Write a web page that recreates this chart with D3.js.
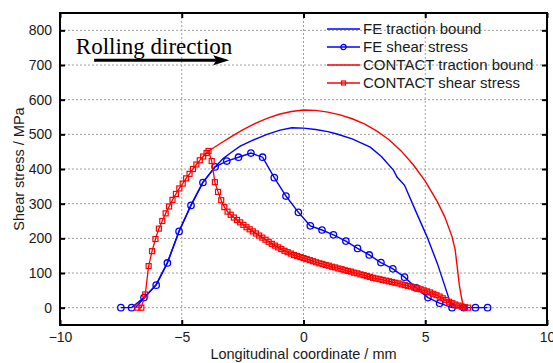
<!DOCTYPE html>
<html>
<head>
<meta charset="utf-8">
<script src="https://cdn.jsdelivr.net/npm/d3@7"></script>
<style>
  body { margin: 0; background: #fff; }
  text { font-family: Arial, "Liberation Sans", sans-serif; }
</style>
</head>
<body>
<div id="chart"></div>
<script>
// FE shear stress (blue circles)
const feShearX = [-7.5, -7.06, -6.55, -6.05, -5.59, -5.11, -4.62, -4.13, -3.63, -3.15, -2.67, -2.16, -1.68, -1.2,
  -0.72, -0.21, 0.28, 0.76, 1.23, 1.74, 2.22, 2.7, 3.18, 3.67, 4.15, 4.63, 5.11, 5.59, 6.1, 6.58, 7.06, 7.56];
const feShearY = [0, 0, 29, 65, 129, 220, 295, 361, 406, 423, 434, 446, 434, 375,
  322, 275, 236, 224, 210, 192, 171, 152, 130, 112, 88, 57, 29, 13, 0, 0, 0, 0];

// FE traction bound (blue line)
const feBoundX = [-6.9, -6.55, -6.05, -5.59, -5.11, -4.62, -4.13, -3.63, -3.3, -3.0, -2.6, -2.12, -1.5, -0.96, -0.48,
  0, 0.5, 1.0, 1.37, 2.0, 2.74, 3.2, 3.7, 3.84, 4.15, 4.6, 5.07, 5.5, 5.96, 6.1];
const feBoundY = [0, 28, 67, 130, 221, 296, 362, 406, 430, 446, 466, 482, 500, 512, 519,
  518, 514, 508, 501, 487, 463, 436, 396, 377, 353, 280, 205, 127, 29, 0];

// CONTACT traction bound (red line)
const ctBoundX = [-3.9, -3.5, -3.0, -2.5, -2.0, -1.5, -1.0, -0.5, 0, 0.5, 1.0, 1.5, 2.0, 2.5, 3.0, 3.5, 4.0, 4.5,
  5.0, 5.5, 5.8, 6.1, 6.23, 6.4, 6.5, 6.58];
const ctBoundY = [452, 470, 492, 513, 531, 546, 558, 566, 570, 569, 564, 556, 545, 530, 510, 485, 453, 413,
  365, 305, 262, 205, 167, 65, 25, 0];

// CONTACT shear stress (red squares)
const ctShearX = [-6.82, -6.66, -6.5, -6.36, -6.22, -6.08, -5.94, -5.8, -5.66, -5.52, -5.38, -5.24, -5.1, -4.96,
  -4.82, -4.68, -4.54, -4.4, -4.26, -4.12, -3.98, -3.9, -3.77, -3.64, -3.51, -3.38, -3.25, -3.12, -2.99, -2.86,
  -2.73, -2.6, -2.47, -2.34, -2.21, -2.08, -1.95, -1.82, -1.69, -1.56, -1.43, -1.3, -1.17, -1.04, -0.91, -0.78,
  -0.65, -0.52, -0.39, -0.26, -0.13, 0, 0.13, 0.26, 0.39, 0.52, 0.65, 0.78, 0.91, 1.04, 1.17, 1.3, 1.43, 1.56,
  1.69, 1.82, 1.95, 2.08, 2.21, 2.34, 2.47, 2.6, 2.73, 2.86, 2.99, 3.12, 3.25, 3.38, 3.51, 3.64, 3.77, 3.9,
  4.03, 4.16, 4.29, 4.42, 4.55, 4.68, 4.81, 4.94, 5.07, 5.2, 5.33, 5.46, 5.59, 5.72, 5.85, 5.98, 6.11, 6.24,
  6.37, 6.5, 6.63, 6.76];
const ctShearY = [0, 0, 38, 120, 163, 198, 228, 250, 272, 292, 311, 328, 344, 358,
  373, 386, 400, 413, 425, 436, 446, 452, 423, 362, 334, 310, 290, 277, 268, 260,
  253, 246, 239, 232, 226, 220, 214, 208, 202, 196, 190, 184, 179, 174, 169, 164,
  160, 156, 152, 149, 146, 143, 140, 137, 134, 131, 128, 126, 123, 121, 118, 116, 113, 111,
  108, 106, 104, 101, 99, 96, 94, 91, 89, 86, 84, 82, 80, 78, 76, 74, 72, 70,
  67, 65, 63, 61, 58, 56, 53, 50, 47, 44, 40, 36, 32, 27, 22, 17, 13, 9,
  6, 3, 1, 0];

const xTicks = [-10, -5, 0, 5, 10];
const yTicks = [0, 100, 200, 300, 400, 500, 600, 700, 800];
const legendNames = ['FE traction bound', 'FE shear stress', 'CONTACT traction bound', 'CONTACT shear stress'];

const blue = '#0000ff';
const red = '#ff0000';

const width = 553;
const height = 363;
const margin = { top: 13, right: 6, bottom: 38, left: 60 };
const iw = width - margin.left - margin.right;
const ih = height - margin.top - margin.bottom;

const x = d3.scaleLinear().domain([-10, 10]).range([0, iw]);
const y = d3.scaleLinear().domain([-50, 850]).range([ih, 0]);

const svg = d3.select('#chart').append('svg')
  .attr('width', width)
  .attr('height', height);

const g = svg.append('g')
  .attr('transform', `translate(${margin.left},${margin.top})`);

// grid
g.append('g').selectAll('line')
  .data(xTicks.slice(1, -1))
  .enter().append('line')
  .attr('x1', (d) => x(d)).attr('x2', (d) => x(d))
  .attr('y1', 0).attr('y2', ih)
  .style('stroke', '#a0a0a0')
  .style('stroke-width', 1)
  .style('stroke-dasharray', '2,2');
g.append('g').selectAll('line')
  .data(yTicks)
  .enter().append('line')
  .attr('x1', 0).attr('x2', iw)
  .attr('y1', (d) => y(d)).attr('y2', (d) => y(d))
  .style('stroke', '#a0a0a0')
  .style('stroke-width', 1)
  .style('stroke-dasharray', '2,2');

const zip = (xs, ys) => xs.map((v, i) => [v, ys[i]]);
const line = d3.line().x((d) => x(d[0])).y((d) => y(d[1]));

const feShear = zip(feShearX, feShearY);
const feBound = zip(feBoundX, feBoundY);
const ctBound = zip(ctBoundX, ctBoundY);
const ctShear = zip(ctShearX, ctShearY);

g.append('path').datum(feBound)
  .attr('d', line).style('fill', 'none').style('stroke', blue).style('stroke-width', 1.4);
g.append('path').datum(feShear)
  .attr('d', line).style('fill', 'none').style('stroke', blue).style('stroke-width', 1.4);
g.append('g').selectAll('circle')
  .data(feShear)
  .enter().append('circle')
  .attr('cx', (d) => x(d[0]))
  .attr('cy', (d) => y(d[1]))
  .attr('r', 3.2)
  .style('fill', 'none')
  .style('stroke', blue)
  .style('stroke-width', 1.3);

g.append('path').datum(ctBound)
  .attr('d', line).style('fill', 'none').style('stroke', red).style('stroke-width', 1.4);
g.append('path').datum(ctShear)
  .attr('d', line).style('fill', 'none').style('stroke', red).style('stroke-width', 1.3);
g.append('g').selectAll('rect')
  .data(ctShear)
  .enter().append('rect')
  .attr('x', (d) => x(d[0]) - 2.5)
  .attr('y', (d) => y(d[1]) - 2.5)
  .attr('width', 5)
  .attr('height', 5)
  .style('fill', 'none')
  .style('stroke', red)
  .style('stroke-width', 1.2);

// axes box with inward ticks
g.append('g')
  .attr('transform', `translate(0,${ih})`)
  .call(d3.axisBottom(x).tickValues(xTicks).tickSizeInner(-5).tickSizeOuter(0).tickPadding(7))
  .call((a) => a.select('.domain').remove());
g.append('g')
  .call(d3.axisTop(x).tickValues(xTicks).tickSizeInner(-5).tickSizeOuter(0).tickFormat(''))
  .call((a) => a.select('.domain').remove());
g.append('g')
  .call(d3.axisLeft(y).tickValues(yTicks).tickSizeInner(-5).tickSizeOuter(0).tickPadding(8))
  .call((a) => a.select('.domain').remove());
g.append('g')
  .attr('transform', `translate(${iw},0)`)
  .call(d3.axisRight(y).tickValues(yTicks).tickSizeInner(-5).tickSizeOuter(0).tickFormat(''))
  .call((a) => a.select('.domain').remove());
g.selectAll('.tick line').style('stroke', '#000').style('stroke-width', 2);
g.selectAll('.tick text')
  .style('font-size', '14px')
  .style('fill', '#1a1a1a')
  .style('font-family', 'Arial, "Liberation Sans", sans-serif');

g.append('rect')
  .attr('width', iw)
  .attr('height', ih)
  .style('fill', 'none')
  .style('stroke', '#000')
  .style('stroke-width', 2);

// axis labels
svg.append('text')
  .attr('x', margin.left + x(0))
  .attr('y', 359)
  .attr('text-anchor', 'middle')
  .style('font-size', '14.5px')
  .style('fill', '#1a1a1a')
  .text('Longitudinal coordinate / mm');
svg.append('text')
  .attr('transform', `translate(24,${margin.top + ih / 2}) rotate(-90)`)
  .attr('text-anchor', 'middle')
  .style('font-size', '14.5px')
  .style('fill', '#1a1a1a')
  .text('Shear stress / MPa');

// rolling direction annotation
const arrowFrom = [-8.6, 714];
const arrowTo = [-3.05, 714];
const noteAt = [-9.35, 733];
g.append('line')
  .attr('x1', x(arrowFrom[0])).attr('y1', y(arrowFrom[1]))
  .attr('x2', x(arrowTo[0]) - 12).attr('y2', y(arrowTo[1]))
  .style('stroke', '#000').style('stroke-width', 3);
g.append('path')
  .attr('d', `M${x(arrowTo[0])},${y(arrowTo[1])} L${x(arrowTo[0]) - 16},${y(arrowTo[1]) - 5} L${x(arrowTo[0]) - 13},${y(arrowTo[1])} L${x(arrowTo[0]) - 16},${y(arrowTo[1]) + 5} Z`)
  .style('fill', '#000');
g.append('text')
  .attr('x', x(noteAt[0]))
  .attr('y', y(noteAt[1]))
  .style('font-family', '"Liberation Serif", "Times New Roman", serif')
  .style('font-size', '23px')
  .style('fill', '#000')
  .text('Rolling direction');

// legend
const legend = svg.append('g').attr('transform', 'translate(327,29)');
const legendColors = [blue, blue, red, red];
const legendRows = legend.selectAll('g')
  .data(legendNames)
  .enter().append('g')
  .attr('transform', (d, i) => `translate(0,${i * 18})`);
legendRows.append('line')
  .attr('x1', 0).attr('x2', 33)
  .style('stroke', (d, i) => legendColors[i])
  .style('stroke-width', 1.4);
legendRows.filter((d, i) => i === 1).append('circle')
  .attr('cx', 16.5).attr('r', 2.6)
  .style('fill', 'none').style('stroke', blue).style('stroke-width', 1.3);
legendRows.filter((d, i) => i === 3).append('rect')
  .attr('x', 14.5).attr('y', -2).attr('width', 4).attr('height', 4)
  .style('fill', 'none').style('stroke', red).style('stroke-width', 1.2);
legendRows.append('text')
  .attr('x', 36)
  .attr('dy', '0.35em')
  .style('font-size', '15px')
  .style('fill', '#1a1a1a')
  .text((d) => d);
</script>
</body>
</html>
